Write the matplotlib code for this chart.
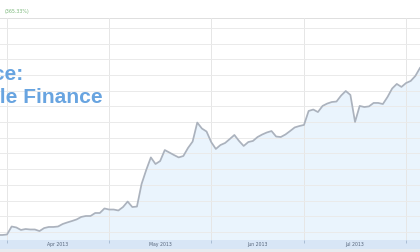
#!/usr/bin/env python3
"""Google Finance style price chart, Apr-Jul 2013 (cropped screenshot look)."""

import matplotlib
matplotlib.use("Agg")
import matplotlib.pyplot as plt

# trading-day index (0 = first trading day of Apr 2013) and close price
day = list(range(-2, 90))
close = [
    9.81, 9.81, 9.84, 10.35, 10.29, 10.13, 10.19, 10.16, 10.16, 10.06,
    10.25, 10.32, 10.32, 10.35, 10.51, 10.61, 10.70, 10.80, 10.96, 11.02,
    11.02, 11.21, 11.21, 11.50, 11.43, 11.43, 11.37, 11.59, 11.94, 11.59,
    11.62, 13.06, 13.95, 14.75, 14.33, 14.52, 15.22, 15.06, 14.90, 14.75,
    14.84, 15.35, 15.76, 16.97, 16.59, 16.40, 15.73, 15.29, 15.54, 15.67,
    15.92, 16.18, 15.80, 15.48, 15.73, 15.80, 16.05, 16.21, 16.34, 16.43,
    16.08, 16.05, 16.21, 16.43, 16.66, 16.75, 16.82, 17.71, 17.80, 17.64,
    18.03, 18.18, 18.28, 18.31, 18.69, 18.98, 18.73, 17.01, 18.03, 17.96,
    18.00, 18.22, 18.22, 18.15, 18.60, 19.14, 19.43, 19.24, 19.49, 19.62,
    19.94, 20.45,
]

month_starts = [0, 22, 44, 64, 86]
month_mids = [11, 33, 54, 75]
month_labels = ["Apr 2013", "May 2013", "Jun 2013", "Jul 2013"]
price_grid = list(range(10, 24))
change_label = "(365.33%)"
source_lines = ["Source:", "Google Finance"]

W, H = 420, 252
fig = plt.figure(figsize=(W / 100, H / 100), dpi=100)
fig.patch.set_facecolor("white")

xlim = (-1.51, 89.0)
ylim = (9.49, 23.63)

# main price panel
ax = fig.add_axes([0, 12 / H, 1, 222 / H])
ax.set_xlim(*xlim)
ax.set_ylim(*ylim)
ax.fill_between(day, close, ylim[0], color="#eaf4fd", lw=0, zorder=1)
ax.plot(day, close, color="#abb2bd", lw=1.25, zorder=3)
ax.set_yticks(price_grid)
ax.set_xticks(month_starts)
ax.grid(axis="y", color="#eaeaea", lw=0.7, zorder=2)
ax.grid(axis="x", color="#e6e6e6", lw=0.7, zorder=2)
ax.set_axisbelow(False)
ax.tick_params(length=0, labelbottom=False, labelleft=False)
for side in ["left", "right", "bottom"]:
    ax.spines[side].set_visible(False)
ax.spines["top"].set_color("#dedede")
ax.spines["top"].set_linewidth(0.7)

# date band at the bottom
band = fig.add_axes([0, 3 / H, 1, 9 / H])
band.set_facecolor("#d8e6f6")
band.set_xlim(*xlim)
band.set_ylim(0, 1)
band.set_yticks([])
band.set_xticks([])
band.set_xticks(month_starts, minor=True)
band.tick_params(which="minor", bottom=False, top=True, direction="in",
                 length=2, width=0.6, color="#a3b7ce", labeltop=False,
                 labelbottom=False)
for s in band.spines.values():
    s.set_visible(False)
for x, lab in zip(month_mids, month_labels):
    band.text(x, 0.45, lab, ha="center", va="center", fontsize=3.3,
              color="#56657a")

# strip below band
strip = fig.add_axes([0, 0, 1, 3 / H])
strip.set_facecolor("#e8ebef")
strip.set_xticks([])
strip.set_yticks([])
for s in strip.spines.values():
    s.set_visible(False)

fig.text(5 / W, 1 - 12 / H, change_label, fontsize=3.4, color="#79b779",
         ha="left", va="center")

blue = "#68a4e0"
fig.text(-55 / W, 1 - 80 / H, source_lines[0], fontsize=15.1,
         fontweight="bold", family="Liberation Sans", color=blue,
         ha="left", va="baseline")
fig.text(-55 / W, 1 - 103 / H, source_lines[1], fontsize=15.1,
         fontweight="bold", family="Liberation Sans", color=blue,
         ha="left", va="baseline")

fig.savefig("out.png", dpi=100)
